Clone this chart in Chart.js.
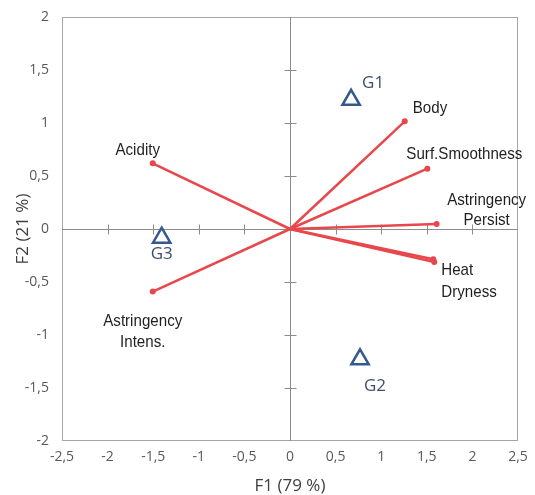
<!DOCTYPE html>
<html>
<head>
<meta charset="utf-8">
<script src="https://cdn.jsdelivr.net/npm/chart.js@4/dist/chart.umd.min.js"></script>
<style>
  html, body { margin: 0; padding: 0; background: #ffffff; }
  #wrap { width: 535px; height: 495px; }
</style>
</head>
<body>
<div id="wrap"><canvas id="biplot" width="535" height="495"></canvas></div>
<script>
// Sensory attributes (variable loadings on F1 / F2)
const attributes = ['Acidity', 'Body', 'Surf.Smoothness', 'Astringency Persist', 'Heat', 'Dryness', 'Astringency Intens.'];
const attributeLines = [['Acidity'], ['Body'], ['Surf.Smoothness'], ['Astringency', 'Persist'], ['Heat'], ['Dryness'], ['Astringency', 'Intens.']];
const f1Loadings = [-1.505, 1.258, 1.506, 1.608, 1.571, 1.582, -1.505];
const f2Loadings = [0.620, 1.016, 0.569, 0.047, -0.286, -0.311, -0.590];

// Sample groups (observation scores)
const groups = ['G1', 'G2', 'G3'];
const groupF1 = [0.670, 0.768, -1.407];
const groupF2 = [1.219, -1.229, -0.082];

// Axis ranges and titles
const xRange = [-2.5, 2.5];
const yRange = [-2, 2];
const tickStep = 0.5;
const xTitle = 'F1 (79 %)';
const yTitle = 'F2 (21 %)';

// Label placement relative to each end point (pixels): [dx, dy, align]
const attrLabelPlacement = [
  [-15, -13, 'center'],
  [8, -13, 'left'],
  [-21, -14, 'left'],
  [50, -24, 'center'],
  [8, 11, 'left'],
  [7, 30, 'left'],
  [-10, 30, 'center']
];
const groupLabelPlacement = [
  [11, -17, 'left'],
  [15, 27, 'center'],
  [0, 16, 'center']
];

const RED = '#e8474c';
const BLUE = '#34598f';
const GROUP_TEXT = '#3d4f6e';
const AXIS_GREY = '#8c8c8c';
const BORDER_GREY = '#a6a6a6';

const commaFormat = v => String(Math.round(v * 10) / 10).replace('.', ',');

const vectorDatasets = attributes.map((name, i) => ({
  label: name,
  data: [{ x: 0, y: 0 }, { x: f1Loadings[i], y: f2Loadings[i] }],
  showLine: true,
  borderColor: RED,
  borderWidth: 2.5,
  pointRadius: [0, 3],
  pointBackgroundColor: RED,
  pointBorderWidth: 0
}));

const groupDataset = {
  label: 'Groups',
  data: groups.map((g, i) => ({ x: groupF1[i], y: groupF2[i] })),
  pointStyle: 'triangle',
  pointRadius: 10,
  pointBorderWidth: 2.5,
  pointBorderColor: BLUE,
  pointBackgroundColor: 'rgba(0,0,0,0)'
};

// Frame around the plot plus the centred axes with cross ticks
const frameAndAxes = {
  id: 'frameAndAxes',
  beforeDatasetsDraw(chart) {
    const { ctx, chartArea: a, scales: { x, y } } = chart;
    ctx.save();
    ctx.strokeStyle = BORDER_GREY;
    ctx.lineWidth = 1;
    ctx.strokeRect(Math.round(a.left) + 0.5, Math.round(a.top) + 0.5,
                   Math.round(a.right - a.left) - 1, Math.round(a.bottom - a.top) - 1);
    const x0 = Math.round(x.getPixelForValue(0)) + 0.5;
    const y0 = Math.round(y.getPixelForValue(0)) + 0.5;
    ctx.strokeStyle = AXIS_GREY;
    ctx.beginPath();
    ctx.moveTo(a.left, y0); ctx.lineTo(a.right, y0);
    ctx.moveTo(x0, a.top); ctx.lineTo(x0, a.bottom);
    for (let v = xRange[0] + tickStep; v < xRange[1] - 1e-9; v += tickStep) {
      if (Math.abs(v) < 1e-9) continue;
      const px = Math.round(x.getPixelForValue(v)) + 0.5;
      ctx.moveTo(px, y0 - 5); ctx.lineTo(px, y0 + 5);
    }
    for (let v = yRange[0] + tickStep; v < yRange[1] - 1e-9; v += tickStep) {
      if (Math.abs(v) < 1e-9) continue;
      const py = Math.round(y.getPixelForValue(v)) + 0.5;
      ctx.moveTo(x0 - 6, py); ctx.lineTo(x0 + 6, py);
    }
    ctx.stroke();
    ctx.restore();
  }
};

function drawLabel(ctx, lines, px, py, align, lineGap, sx) {
  ctx.save();
  ctx.translate(px, py);
  ctx.scale(sx, 1);
  ctx.textAlign = align;
  ctx.textBaseline = 'middle';
  lines.forEach((t, k) => ctx.fillText(t, 0, k * lineGap));
  ctx.restore();
}

// Text labels for the attribute vectors and the groups
const pointLabels = {
  id: 'pointLabels',
  afterDatasetsDraw(chart) {
    const { ctx, scales: { x, y } } = chart;
    ctx.save();
    ctx.fillStyle = '#1f1f1f';
    ctx.font = '17px "Liberation Sans", Arial, sans-serif';
    attributes.forEach((name, i) => {
      const [dx, dy, align] = attrLabelPlacement[i];
      const px = x.getPixelForValue(f1Loadings[i]) + dx;
      const py = y.getPixelForValue(f2Loadings[i]) + dy;
      drawLabel(ctx, attributeLines[i], px, py, align, 20.5, 0.89);
    });
    ctx.fillStyle = GROUP_TEXT;
    ctx.font = '17px "Open Sans", sans-serif';
    groups.forEach((g, i) => {
      const [dx, dy, align] = groupLabelPlacement[i];
      const px = x.getPixelForValue(groupF1[i]) + dx;
      const py = y.getPixelForValue(groupF2[i]) + dy;
      drawLabel(ctx, [g], px, py, align, 0, 1);
    });
    ctx.restore();
  }
};

// Fixed axis box sizes; label overhang is already covered by the layout padding
function fixBox(prop, size) {
  return s => {
    s[prop] = size;
    s.paddingTop = s.paddingBottom = s.paddingLeft = s.paddingRight = 0;
  };
}

const tickFont = { family: '"Open Sans", sans-serif', size: 14 };
const titleFont = { family: '"Open Sans", sans-serif', size: 17, lineHeight: 1 };

new Chart(document.getElementById('biplot'), {
  type: 'scatter',
  data: { datasets: [...vectorDatasets, groupDataset] },
  options: {
    responsive: false,
    animation: false,
    events: [],
    layout: { padding: { top: 17, right: 17, left: 0, bottom: 0 } },
    plugins: { legend: { display: false }, tooltip: { enabled: false } },
    scales: {
      x: {
        type: 'linear',
        min: xRange[0], max: xRange[1],
        grid: { display: false, drawTicks: false },
        border: { display: false },
        ticks: { stepSize: tickStep, autoSkip: false, maxRotation: 0, padding: 8,
                 color: '#595959', font: tickFont, callback: commaFormat },
        title: { display: true, text: xTitle, color: '#404040', font: titleFont,
                 padding: { top: 0, bottom: 0 } },
        afterFit: fixBox('height', 54)
      },
      y: {
        type: 'linear',
        min: yRange[0], max: yRange[1],
        grid: { display: false, drawTicks: false },
        border: { display: false },
        ticks: { stepSize: tickStep, autoSkip: false, padding: 13,
                 color: '#595959', font: tickFont, callback: commaFormat },
        title: { display: true, text: yTitle, color: '#404040', font: titleFont,
                 padding: { top: 14.5, bottom: 0 } },
        afterFit: fixBox('width', 62)
      }
    }
  },
  plugins: [frameAndAxes, pointLabels]
});
</script>
</body>
</html>
